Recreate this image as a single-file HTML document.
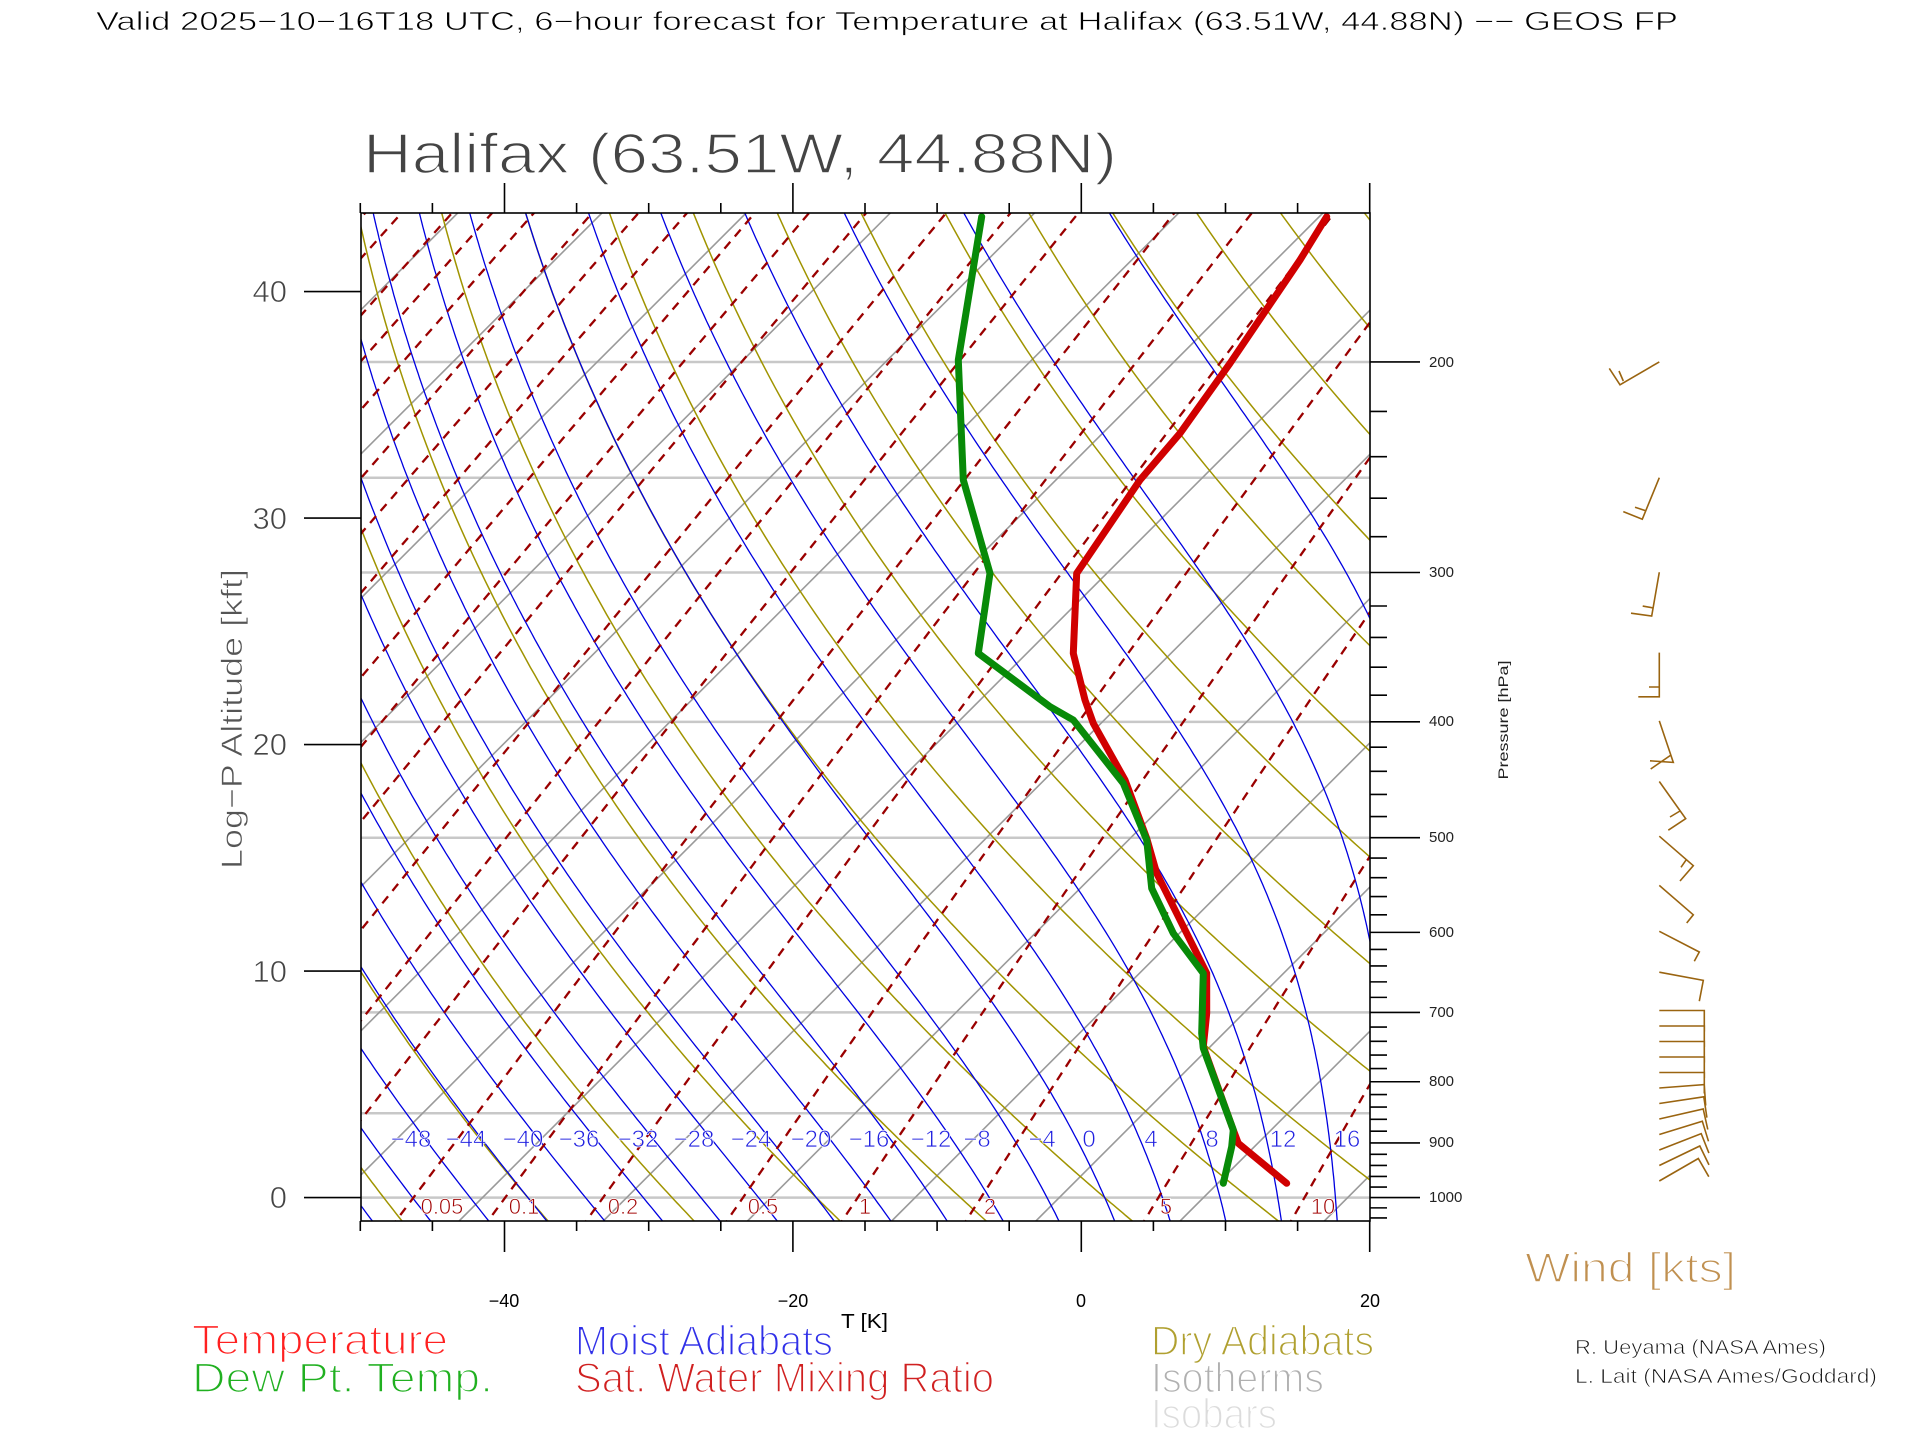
<!DOCTYPE html>
<html><head><meta charset="utf-8"><style>
html,body{margin:0;padding:0;background:#fff;}
svg{display:block;font-family:"Liberation Sans",sans-serif;}
.thin{stroke:#fff;stroke-width:1.6px;paint-order:normal;}
.thin2{stroke:#fff;stroke-width:0.7px;paint-order:normal;}
</style></head><body>
<svg id="s" width="1920" height="1440" viewBox="0 0 1920 1440" xmlns="http://www.w3.org/2000/svg">
<rect width="1920" height="1440" fill="#fff"/>
<defs><clipPath id="cp"><rect x="361" y="213" width="1009" height="1008"/></clipPath></defs>
<g id="grid" clip-path="url(#cp)"></g>
<g id="prof" clip-path="url(#cp)" fill="none" stroke-linejoin="round" stroke-linecap="round">
<polyline stroke="#d00000" stroke-width="7" points="1326.7,216.7 1300,260 1230,363.3 1180,433.3 1140,480 1076.7,573.3 1073.3,653.3 1085,700 1093.3,723.3 1125,780 1146.7,838.3 1156.7,873.3 1206.7,973.3 1206.7,1013.3 1203.3,1046.7 1233.3,1130 1238.3,1143.3 1286.7,1183.3"/>
<polyline stroke="#088a08" stroke-width="7" points="981.7,216.7 958.3,360 963.3,480 990,573.3 978.3,653.3 1050,706.7 1073.3,720 1123.3,783.3 1146.7,840 1151.7,888.3 1173.3,933.3 1203.3,973.3 1201.7,1033.3 1203.3,1048.3 1233.3,1130 1231.7,1146.7 1223.3,1183.3"/>
</g>
<g id="axes" stroke="#000" stroke-width="1.6" fill="none"></g>
<g fill="#2020e0" font-size="24" text-anchor="middle" class="thin2">
<text x="411" y="1147">−48</text><text x="466" y="1147">−44</text><text x="523" y="1147">−40</text><text x="579" y="1147">−36</text><text x="638" y="1147">−32</text><text x="694" y="1147">−28</text><text x="751" y="1147">−24</text><text x="811" y="1147">−20</text><text x="869" y="1147">−16</text><text x="931" y="1147">−12</text><text x="977" y="1147">−8</text><text x="1042" y="1147">−4</text><text x="1089" y="1147">0</text><text x="1151" y="1147">4</text><text x="1212" y="1147">8</text><text x="1283" y="1147">12</text><text x="1347" y="1147">16</text>
</g>
<g fill="#a00000" font-size="22" text-anchor="middle" class="thin2">
<text x="442" y="1214">0.05</text><text x="524" y="1214">0.1</text><text x="623" y="1214">0.2</text><text x="763" y="1214">0.5</text><text x="865" y="1214">1</text><text x="990" y="1214">2</text><text x="1166" y="1214">5</text><text x="1323" y="1214">10</text>
</g>
<text x="96" y="30" font-size="26" fill="#000" class="thin2" textLength="1582" lengthAdjust="spacingAndGlyphs">Valid 2025−10−16T18 UTC, 6−hour forecast for Temperature at Halifax (63.51W, 44.88N) −− GEOS FP</text>
<text x="363" y="173" font-size="57" fill="#444" class="thin" textLength="754" lengthAdjust="spacingAndGlyphs">Halifax (63.51W, 44.88N)</text>
<text transform="translate(242,719) rotate(-90)" font-size="30" fill="#555" class="thin2" text-anchor="middle" textLength="300" lengthAdjust="spacingAndGlyphs">Log−P Altitude [kft]</text>
<text transform="translate(1508,720) rotate(-90)" font-size="14" fill="#222" text-anchor="middle" textLength="119" lengthAdjust="spacingAndGlyphs">Pressure [hPa]</text>
<g font-size="31" fill="#444" text-anchor="end" class="thin2">
<text x="287" y="302">40</text><text x="287" y="529">30</text><text x="287" y="755">20</text><text x="287" y="982">10</text><text x="287" y="1208">0</text>
</g>
<g font-size="15" fill="#222">
<text x="1429" y="367">200</text><text x="1429" y="577">300</text><text x="1429" y="726">400</text><text x="1429" y="842">500</text><text x="1429" y="937">600</text><text x="1429" y="1017">700</text><text x="1429" y="1086">800</text><text x="1429" y="1147">900</text><text x="1429" y="1202">1000</text>
</g>
<g font-size="18" fill="#000" text-anchor="middle">
<text x="504" y="1307">−40</text><text x="793" y="1307">−20</text><text x="1081" y="1307">0</text><text x="1370" y="1307">20</text>
</g>
<text x="841" y="1328" font-size="20" fill="#000" textLength="47" lengthAdjust="spacingAndGlyphs">T [K]</text>
<g font-size="42" class="thin">
<text x="192" y="1354" fill="#ff2020" textLength="256" lengthAdjust="spacingAndGlyphs">Temperature</text>
<text x="192" y="1392" fill="#20b020" textLength="301" lengthAdjust="spacingAndGlyphs">Dew Pt. Temp.</text>
<text x="575" y="1355" fill="#3030e8" textLength="258" lengthAdjust="spacingAndGlyphs">Moist Adiabats</text>
<text x="575" y="1392" fill="#d02020" textLength="419" lengthAdjust="spacingAndGlyphs">Sat. Water Mixing Ratio</text>
<text x="1151" y="1355" fill="#b0a030" textLength="223" lengthAdjust="spacingAndGlyphs">Dry Adiabats</text>
<text x="1151" y="1392" fill="#b0b0b0" textLength="173" lengthAdjust="spacingAndGlyphs">Isotherms</text>
<text x="1151" y="1428" fill="#dcdcdc" textLength="126" lengthAdjust="spacingAndGlyphs">Isobars</text>
<text x="1525" y="1282" fill="#c09050" textLength="211" lengthAdjust="spacingAndGlyphs">Wind [kts]</text>
</g>
<g font-size="20" fill="#111" class="thin2">
<text x="1575" y="1354" textLength="251" lengthAdjust="spacingAndGlyphs">R. Ueyama (NASA Ames)</text>
<text x="1575" y="1383" textLength="302" lengthAdjust="spacingAndGlyphs">L. Lait (NASA Ames/Goddard)</text>
</g>
<g id="wind" stroke="#9a6410" stroke-width="1.6" fill="none">
<path d="M1659.3,361.9 L1620,384.8 L1609.3,368.4 M1623.3,381 L1619,371"/>
<path d="M1659.3,477.7 L1642.3,519.2 L1623.3,511.6 M1645,510.5 L1635,507.2"/>
<path d="M1659.3,572.2 L1651.7,616 L1631,613.2 M1652.3,607.8 L1642.7,606.1"/>
<path d="M1659.3,652.6 L1659.3,696.8 L1638.3,696.8 M1659.3,687 L1649,687"/>
<path d="M1659.3,720.9 L1673.3,762.4 L1650,760.8 M1671,755 L1650.7,769"/>
<path d="M1659.3,781.5 L1685.7,818.7 L1668.3,830.2 M1680,811 L1670,817"/>
<path d="M1659.3,836.2 L1693.3,865.7 L1680,881 M1686.7,859.1 L1681,867.3"/>
<path d="M1659.3,885.4 L1693.3,914.8 L1686.7,923"/>
<path d="M1659.3,931.3 L1699.3,952 L1694.3,961.3"/>
<path d="M1659.3,972.2 L1703.3,980.4 L1699.3,1001.2"/>
</g>
</svg>
<script>
(function(){
var NS="http://www.w3.org/2000/svg";
var L=361,R=1370,T=213,B=1221;
function yp(p){return 1197.6-519.2*Math.log(1000/p);}
function xt(t,y){return 1081.3+14.42*t+(1221-y);}
function es(t){return 6.112*Math.exp(17.67*t/(t+243.5));}
function el(parent,tag,attrs){var e=document.createElementNS(NS,tag);for(var k in attrs)e.setAttribute(k,attrs[k]);parent.appendChild(e);return e;}
var g=document.getElementById("grid");
function poly(pts,stroke,w,dash){var a={points:pts.map(function(q){return q[0].toFixed(1)+","+q[1].toFixed(1);}).join(" "),fill:"none",stroke:stroke,"stroke-width":w};if(dash)a["stroke-dasharray"]=dash;el(g,"polyline",a);}
[1000,850,700,500,400,300,250,200].forEach(function(p){var y=yp(p);poly([[L,y],[R,y]],"#c8c8c8",2.5);});
for(var K=120;K<=310;K+=10){var t=K-273.15;poly([[xt(t,B),B],[xt(t,T),T]],"#9a9a9a",1.6);}
for(var th=-70;th<=150;th+=10){var pts=[];for(var p=1060;p>=140;p-=5){var tk=(th+273.15)*Math.pow(p/1000,0.2857);var y=yp(p);pts.push([xt(tk-273.15,y),y]);}poly(pts,"#a09400",1.5);}
function f(t,p){var tk=t+273.15;var e=es(t);var rs=0.622*e/(p-e);return (287*tk+2.5e6*rs)/(1004+2.5e6*2.5e6*rs*0.622/(287*tk*tk));}
for(var tw=-84;tw<=24;tw+=4){var up=[],t=tw,p=1000;var y0=yp(p);up.push([xt(t,y0),y0]);
 while(p>140){var d=Math.log(0.99);var k1=f(t,p);var tm=t+k1*d/2;var pm=p*Math.exp(d/2);var k2=f(tm,pm);t=t+k2*d;p=p*0.99;var y=yp(p);up.push([xt(t,y),y]);}
 var dn=[];t=tw;p=1000;while(p<1060){var d2=Math.log(1.01);t=t+f(t,p)*d2;p=p*1.01;var y2=yp(p);dn.push([xt(t,y2),y2]);}
 poly(dn.reverse().concat(up),"#0000e0",1.3);}
var ws=[];[1e-7,1e-6,1e-5,1e-4,1e-3,1e-2,0.1,1,10].forEach(function(b){ws.push(b,2*b,5*b);});ws.push(20);
ws.forEach(function(w){var pts=[];for(var p=1060;p>=140;p-=5){var e=w*p/(622+w);var ln=Math.log(e/6.112);var t=243.5*ln/(17.67-ln);var y=yp(p);pts.push([xt(t,y),y]);}poly(pts,"#9a0000",2.3,"9 7");});
var a=document.getElementById("axes");
function ln(x1,y1,x2,y2,w){el(a,"line",{x1:x1,y1:y1,x2:x2,y2:y2,"stroke-width":w||1.6});}
el(a,"rect",{x:L,y:T,width:R-L,height:B-T});
for(var tc=-50;tc<=20;tc+=5){var x=1081.3+14.42*tc;var big=(tc%20===0);ln(x,T,x,big?183:203);ln(x,B,x,big?1252:1231);}
[0,10,20,30,40].forEach(function(k){var y=1197.6-22.65*k;ln(304,y,L,y);});
for(var p=200;p<=1040;p+=20){var y=yp(p);var big=(p%100===0);ln(R,y,big?1420:1387,y);}
var wg=document.getElementById("wind");
for(var i=0;i<12;i++){var oy=1010.5+15.5*i;var ang=i<5?0:(-30*(i-4)/7);var r=ang*Math.PI/180;var ex=1659.3+45*Math.cos(r),ey=oy+45*Math.sin(r);var br=r+Math.PI/2;var bx=ex+21*Math.cos(br),by=ey+21*Math.sin(br);
 el(wg,"path",{d:"M1659.3,"+oy.toFixed(1)+" L"+ex.toFixed(1)+","+ey.toFixed(1)+" L"+bx.toFixed(1)+","+by.toFixed(1)});}
})();
</script>
</body></html>
